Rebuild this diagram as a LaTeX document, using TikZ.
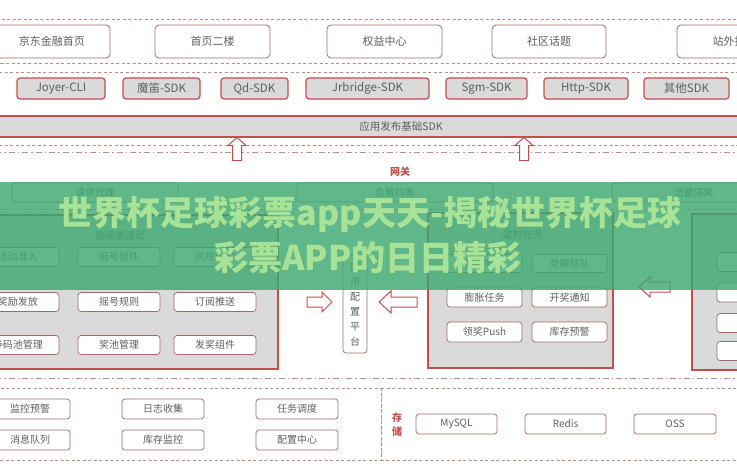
\documentclass[tikz,border=0pt]{standalone}
\usepackage{fontspec}
\setmainfont{Noto Sans CJK SC}
\definecolor{bred}{RGB}{196,78,78}
\definecolor{bgray}{RGB}{218,218,218}
\definecolor{tgray}{RGB}{95,95,95}
\definecolor{lborder}{RGB}{160,105,105}
\definecolor{dashc}{RGB}{190,140,140}
\definecolor{bandgreen}{RGB}{62,168,112}
\definecolor{wtext}{RGB}{168,226,150}
\begin{document}
\begin{tikzpicture}[x=1pt,y=-1pt,
  every node/.style={inner sep=0pt, outer sep=0pt, text=tgray},
  topbox/.style={draw=lborder, line width=0.8pt, fill=white, rounded corners=4pt, font=\fontsize{11}{13}\selectfont},
  sdkbox/.style={draw=bred, line width=1.2pt, fill=bgray, rounded corners=3pt, font=\fontsize{11.5}{13}\selectfont},
  itembox/.style={draw=lborder, line width=0.7pt, fill=white, rounded corners=3pt, font=\fontsize{10}{12}\selectfont},
  modbox/.style={draw=bred, line width=1.5pt, fill=bgray},
  dashln/.style={draw=dashc, line width=0.8pt, dash pattern=on 3pt off 2.5pt},
  dashdot/.style={draw=dashc, line width=1pt, dash pattern=on 6pt off 3pt on 1.5pt off 3pt},
  blockarrow/.style={draw=bred, line width=1pt, fill=white, line join=miter},
  redlabel/.style={text=bred, font=\bfseries\fontsize{10}{14}\selectfont}
]
\useasboundingbox (0,0) rectangle (737,474);
\clip (0,0) rectangle (737,474);
\fill[white] (0,0) rectangle (737,474);

% ---------- top section ----------
\draw[dashln] (-5,19) rectangle (745,63);
\node[topbox, minimum width=116pt, minimum height=33pt] (jd) at (52,41.5) {京东金融首页};
\node[topbox, minimum width=115pt, minimum height=33pt] (sy) at (212.5,41.5) {首页二楼};
\node[topbox, minimum width=115pt, minimum height=33pt] (qy) at (384.5,41.5) {权益中心};
\node[topbox, minimum width=114pt, minimum height=33pt] (sq) at (549,41.5) {社区话题};
\node[topbox, minimum width=115pt, minimum height=33pt] (zw) at (734.5,41.5) {站外投放};

% ---------- SDK section ----------
\draw[dashln] (-5,72) rectangle (745,145);
\node[sdkbox, minimum width=88pt, minimum height=21pt] (joyer) at (61,88.5) {Joyer-CLI};
\node[sdkbox, minimum width=77pt, minimum height=21pt] (modi) at (161.5,88.5) {魔笛-SDK};
\node[sdkbox, minimum width=67pt, minimum height=21pt] (qd) at (254.5,88.5) {Qd-SDK};
\node[sdkbox, minimum width=123pt, minimum height=21pt] (jrb) at (367.5,88.5) {Jrbridge-SDK};
\node[sdkbox, minimum width=81pt, minimum height=21pt] (sgm) at (486.5,88.5) {Sgm-SDK};
\node[sdkbox, minimum width=84pt, minimum height=21pt] (http) at (586,88.5) {Http-SDK};
\node[sdkbox, minimum width=85pt, minimum height=21pt] (other) at (686.5,88.5) {其他SDK};
\node[draw=bred, line width=1.5pt, fill=bgray, minimum width=810pt, minimum height=21pt, font=\fontsize{10.5}{13}\selectfont] (base) at (401,126.5) {应用发布基础SDK};

\draw[dashdot] (-5,152) -- (745,152);

% up arrows
\draw[blockarrow] (237,137.5) -- ++(9,8) -- ++(-4.5,0) -- ++(0,15) -- ++(-9,0) -- ++(0,-15) -- ++(-4.5,0) -- cycle;
\draw[blockarrow] (524,137.5) -- ++(9,8) -- ++(-4.5,0) -- ++(0,15) -- ++(-9,0) -- ++(0,-15) -- ++(-4.5,0) -- cycle;

% ---------- gateway ----------
\node[redlabel] (gw) at (400,172) {网关};
\node[itembox, minimum width=166pt, minimum height=19pt] (proxy) at (95,192.5) {请求代理};
\node[itembox, minimum width=196pt, minimum height=19pt] (lb) at (395,192.5) {负载均衡};
\node[itembox, minimum width=163pt, minimum height=19pt] (iso) at (693.5,192.5) {流量隔离};
\draw[dashln] (-5,209) -- (745,209);

% left module
\draw[modbox] (-10,215) rectangle (278,369);
\node[font=\fontsize{10}{12}\selectfont] (lefttitle) at (120,236) {抽奖类活动};
\node[itembox, minimum width=82pt, minimum height=19pt] (a11) at (18,257) {活动准入};
\node[itembox, minimum width=82pt, minimum height=19pt] (a12) at (119,257) {摇号组件};
\node[itembox, minimum width=82pt, minimum height=19pt] (a13) at (215,257) {风控校验};
\node[itembox, minimum width=82pt, minimum height=19pt] (a21) at (18,302) {奖励发放};
\node[itembox, minimum width=82pt, minimum height=19pt] (a22) at (119,302) {摇号规则};
\node[itembox, minimum width=82pt, minimum height=19pt] (a23) at (215,302) {订阅推送};
\node[itembox, minimum width=82pt, minimum height=19pt] (a31) at (18,345) {券码池管理};
\node[itembox, minimum width=82pt, minimum height=19pt] (a32) at (119,345) {奖池管理};
\node[itembox, minimum width=82pt, minimum height=19pt] (a33) at (215,345) {发奖组件};

% config platform
\node[itembox, minimum width=24pt, minimum height=98pt, align=center, font=\fontsize{10}{15}\selectfont] (cfg) at (355,304) {应\\用\\配\\置\\平\\台};
\draw[blockarrow] (332,302) -- ++(-10,-10) -- ++(0,5) -- ++(-15,0) -- ++(0,10) -- ++(15,0) -- ++(0,5) -- cycle;
\draw[blockarrow] (379,302) -- ++(12,-11) -- ++(0,6) -- ++(26,0) -- ++(0,10) -- ++(-26,0) -- ++(0,6) -- cycle;

% middle-right module
\draw[modbox] (428,213) rectangle (613,368);
\node[font=\fontsize{10}{12}\selectfont] (midtitle) at (523,235) {定时任务};
\node[itembox, minimum width=75pt, minimum height=18pt] (b11) at (484.5,263.5) {赛事同步};
\node[itembox, minimum width=75pt, minimum height=18pt] (b12) at (569.5,263.5) {竞猜球队};
\node[itembox, minimum width=75pt, minimum height=19pt] (b21) at (484.5,297.5) {膨胀任务};
\node[itembox, minimum width=75pt, minimum height=19pt] (b22) at (569.5,297.5) {开奖通知};
\node[itembox, minimum width=75pt, minimum height=20pt] (b31) at (484.5,332) {领奖Push};
\node[itembox, minimum width=75pt, minimum height=20pt] (b32) at (569.5,332) {库存预警};
\draw[blockarrow] (639,287) -- ++(11,-10) -- ++(0,5) -- ++(20,0) -- ++(0,10) -- ++(-20,0) -- ++(0,5) -- cycle;

% right module
\draw[modbox] (692,214) rectangle (770,370);
\node[itembox, minimum width=70pt, minimum height=19pt] (c1) at (752,262) {};
\node[itembox, minimum width=70pt, minimum height=19pt] (c2) at (752,292.5) {};
\node[itembox, minimum width=70pt, minimum height=19pt] (c3) at (752,323) {};
\node[itembox, minimum width=70pt, minimum height=19pt] (c4) at (752,351) {};

\draw[dashdot] (-5,378) -- (745,378);

% ---------- bottom ----------
\draw[dashln] (-5,388) rectangle (381,460);
\draw[dashln] (381,388) rectangle (745,460);
\node[itembox, minimum width=80pt, minimum height=20pt] (m1) at (30,409) {监控预警};
\node[itembox, minimum width=80pt, minimum height=20pt] (m2) at (30,440) {消息队列};
\node[itembox, minimum width=82pt, minimum height=20pt] (m3) at (163,409) {日志收集};
\node[itembox, minimum width=82pt, minimum height=20pt] (m4) at (163,440) {库存监控};
\node[itembox, minimum width=82pt, minimum height=20pt] (m5) at (297,409) {任务调度};
\node[itembox, minimum width=82pt, minimum height=20pt] (m6) at (297,440) {配置中心};
\node[redlabel, align=center] (store) at (397,424.5) {存\\储};
\node[itembox, minimum width=81pt, minimum height=20pt] (mysql) at (456.5,424) {MySQL};
\node[itembox, minimum width=81pt, minimum height=20pt] (redis) at (565.5,424) {Redis};
\node[itembox, minimum width=82pt, minimum height=20pt] (oss) at (675,424) {OSS};

% ---------- green overlay ----------
\fill[bandgreen, opacity=0.82] (0,182) rectangle (737,290);
\node[text=wtext, font=\bfseries\fontsize{34}{38}\selectfont] (ov1) at (370,214) {世界杯足球彩票app天天-揭秘世界杯足球};
\node[text=wtext, font=\bfseries\fontsize{34}{38}\selectfont] (ov2) at (368,258) {彩票APP的日日精彩};
\end{tikzpicture}
\end{document}
